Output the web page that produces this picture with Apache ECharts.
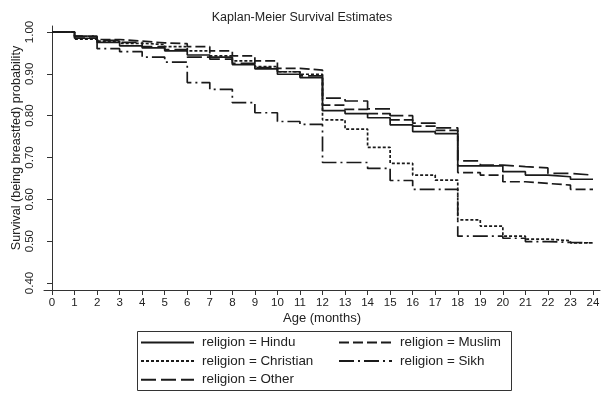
<!DOCTYPE html>
<html>
<head>
<meta charset="utf-8">
<script src="https://cdn.jsdelivr.net/npm/echarts@6/dist/echarts.min.js"></script>
<style>html,body{margin:0;padding:0;background:#fff}#c{width:612px;height:400px}</style>
</head>
<body>
<div id="c"></div>
<script>
const months = [0,1,2,3,4,5,6,7,8,9,10,11,12,13,14,15,16,17,18,19,20,21,22,23,24];
const xTicks = [0,1,2,3,4,5,6,7,8,9,10,11,12,13,14,15,16,17,18,19,20,21,22,23,24];
const yTicks = [0.4,0.5,0.6,0.7,0.8,0.9,1.0];
const hindu =     [1.0,0.985,0.975,0.967,0.962,0.955,0.945,0.940,0.922,0.912,0.899,0.891,0.812,0.805,0.795,0.778,0.762,0.757,0.680,0.680,0.666,0.658,0.654,0.648,0.648];
const muslim =    [1.0,0.988,0.982,0.978,0.974,0.972,0.965,0.955,0.943,0.931,0.913,0.909,0.825,0.815,0.805,0.790,0.775,0.765,0.664,0.658,0.642,0.638,0.634,0.624,0.624];
const christian = [1.0,0.983,0.978,0.973,0.970,0.965,0.955,0.943,0.931,0.917,0.905,0.899,0.790,0.768,0.724,0.686,0.658,0.646,0.551,0.536,0.512,0.505,0.501,0.496,0.496];
const sikh =      [1.0,0.990,0.960,0.953,0.940,0.928,0.879,0.863,0.831,0.807,0.786,0.779,0.688,0.688,0.674,0.645,0.624,0.624,0.512,0.512,0.507,0.499,0.497,0.496,0.496];
const other =     [1.0,0.990,0.980,0.975,0.965,0.958,0.940,0.935,0.925,0.915,0.905,0.895,0.842,0.835,0.816,0.800,0.782,0.771,0.692,0.682,0.678,0.675,0.662,0.658,0.658];

const FONT = 'Liberation Sans, Arial, Helvetica, sans-serif';
const INK = '#1a1a1a';

function mk(name, vals, dash) {
  return {
    name: name,
    type: 'line',
    step: 'end',
    symbol: 'none',
    data: months.map((m, i) => [m, vals[i]]),
    lineStyle: { color: INK, width: 1.7, type: dash },
    itemStyle: { color: INK },
    animation: false
  };
}

const legendCommon = {
  orient: 'vertical', top: 336, padding: 0, itemWidth: 53, itemHeight: 10, itemGap: 5.6,
  itemStyle: { opacity: 0 },
  textStyle: { fontFamily: FONT, fontSize: 13.4, color: '#222', padding: [0, 0, 0, 3] }
};

const chart = echarts.init(document.getElementById('c'), null, { renderer: 'canvas' });
chart.setOption({
  backgroundColor: '#fff',
  animation: false,
  title: {
    text: 'Kaplan-Meier Survival Estimates',
    left: 297, top: 6, textAlign: 'center',
    textStyle: { fontFamily: FONT, fontSize: 12.5, fontWeight: 'normal', color: '#222' }
  },
  grid: { left: 44, right: 12, top: 26, bottom: 110, containLabel: false, outerBoundsMode: 'none' },
  xAxis: {
    type: 'value', min: -0.355, max: 24.31,
    name: 'Age (months)', nameLocation: 'middle', nameGap: 22, nameMoveOverlap: false,
    nameTextStyle: { fontFamily: FONT, fontSize: 13, color: '#222' },
    axisLine: { show: true, lineStyle: { color: '#333', width: 1 } },
    axisTick: { show: true, length: 5, inside: false, customValues: xTicks, lineStyle: { color: '#333' } },
    axisLabel: { customValues: xTicks, margin: 7, fontFamily: FONT, fontSize: 11.5, color: '#222' },
    splitLine: { show: false }
  },
  yAxis: {
    type: 'value', min: 0.3833, max: 1.0143,
    name: 'Survival (being breastfed) probability', nameLocation: 'middle', nameGap: 21, nameRotate: 90,
    nameMoveOverlap: false,
    nameTextStyle: { fontFamily: FONT, fontSize: 12.6, color: '#222', padding: [0, 0, 0, 20] },
    axisLine: { show: true, lineStyle: { color: '#333', width: 1 } },
    axisTick: { show: true, length: 5, customValues: yTicks, lineStyle: { color: '#333' } },
    axisLabel: { customValues: yTicks, rotate: 90, margin: 8, fontFamily: FONT, fontSize: 11.5, color: '#222',
      formatter: v => v.toFixed(2) },
    splitLine: { show: false }
  },
  legend: [
    Object.assign({}, legendCommon, { left: 140, data: ['religion = Hindu', 'religion = Christian', 'religion = Other'] }),
    Object.assign({}, legendCommon, { left: 338, data: ['religion = Muslim', 'religion = Sikh'] })
  ],
  graphic: [{
    type: 'rect', left: 135, top: 329,
    shape: { width: 374, height: 59 },
    style: { fill: 'none', stroke: '#333', lineWidth: 1 }
  }],
  series: [
    mk('religion = Hindu', hindu, 'solid'),
    mk('religion = Muslim', muslim, [10, 4]),
    mk('religion = Christian', christian, [3, 2]),
    mk('religion = Sikh', sikh, [15, 4, 2, 4]),
    mk('religion = Other', other, [15, 5])
  ]
});
</script>
</body>
</html>
